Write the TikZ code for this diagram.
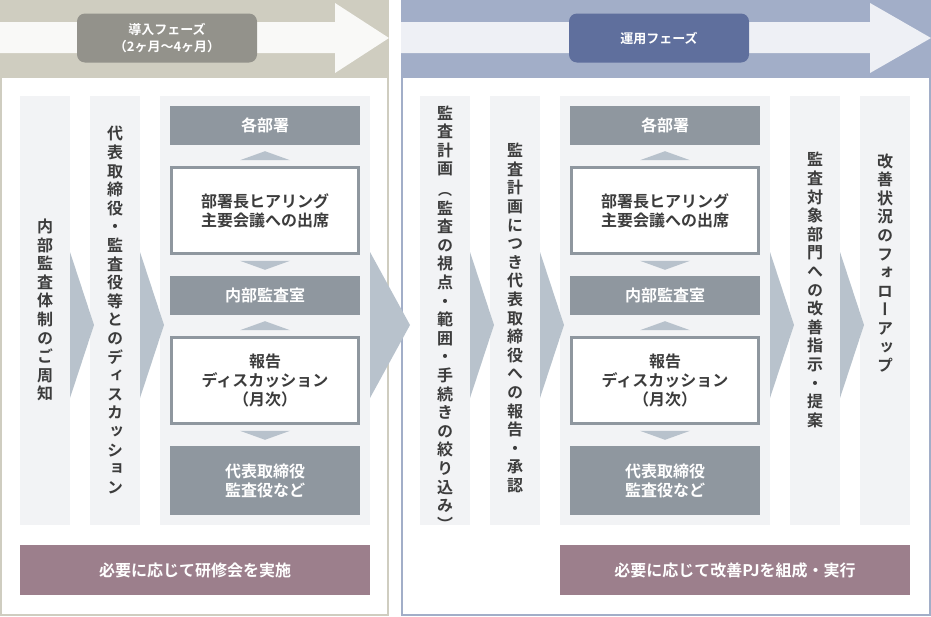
\documentclass[tikz,border=0pt]{standalone}
\usepackage{fontspec}
\setmainfont{Noto Sans CJK JP}[BoldFont=* Bold]
\newfontfamily\vfont{Noto Sans CJK JP}[RawFeature=+vert,BoldFont=* Bold]
\usetikzlibrary{calc, positioning}
\definecolor{introband}{HTML}{CFCDC0}
\definecolor{introlabel}{HTML}{93928B}
\definecolor{opband}{HTML}{A2AEC8}
\definecolor{oplight}{HTML}{EEF0F5}
\definecolor{oplabel}{HTML}{5F6F9D}
\definecolor{colbg}{HTML}{F2F3F5}
\definecolor{chev}{HTML}{B8C2CC}
\definecolor{darkbox}{HTML}{8F979F}
\definecolor{barbg}{HTML}{9C7F8C}
\definecolor{ink}{HTML}{3C3C3C}
% vertical text: one character per line
\def\vt#1{\vtfirst#1\relax}
\def\vtfirst#1{#1\vtaux}
\def\vtaux#1{\ifx#1\relax\else\\#1\expandafter\vtaux\fi}
\newcommand\smallv{\fontsize{14}{16.2}\selectfont}

\begin{document}
\begin{tikzpicture}[x=1pt, y=-1pt,
  col/.style={fill=colbg},
  vlabel/.style={text=ink, font=\vfont\bfseries\fontsize{16}{18.6}\selectfont, align=center, inner sep=0},
  darkbox/.style={fill=darkbox, text=white, font=\bfseries\fontsize{16}{19}\selectfont, align=center, minimum width=190pt, inner sep=0},
  whitebox/.style={draw=darkbox, line width=3pt, fill=white, text=ink, font=\bfseries\fontsize{16}{19}\selectfont, align=center, minimum width=187pt, minimum height=86pt, inner sep=0},
  bar/.style={fill=barbg, text=white, font=\bfseries\fontsize{16}{19}\selectfont, minimum width=350pt, minimum height=50pt},
  phase/.style={rounded corners=8pt, text=white, font=\bfseries\fontsize{13}{17}\selectfont, align=center, minimum width=180pt, minimum height=49pt},
  tri/.style={fill=chev}
]
\useasboundingbox (0,0) rectangle (931,616);

% phase frames
\fill[introband] (0,0) rectangle (389,616);
\fill[white] (2,78) rectangle (387,614);
\fill[opband] (401,0) rectangle (931,616);
\fill[white] (403,78) rectangle (929,614);

% header arrows
\fill[white!60!introband!30] (0,22) -- (335,22) -- (335,3) -- (389,38) -- (335,73) -- (335,53) -- (0,53) -- cycle;
\fill[oplight] (401,22) -- (870,22) -- (870,3) -- (931,38) -- (870,73) -- (870,53) -- (401,53) -- cycle;
\node[phase, fill=introlabel] (introphase) at (167,38) {導入フェーズ\\（2ヶ月〜4ヶ月）};
\node[phase, fill=oplabel] (opphase) at (659,38) {運用フェーズ};

% columns
\fill[col] (20,96) rectangle (70,525);
\fill[col] (90,96) rectangle (140,525);
\fill[col] (160,96) rectangle (370,525);
\fill[col] (420,96) rectangle (470,525);
\fill[col] (490,96) rectangle (540,525);
\fill[col] (560,96) rectangle (770,525);
\fill[col] (790,96) rectangle (840,525);
\fill[col] (860,96) rectangle (910,525);

% chevrons between columns
\foreach \a/\b in {70/94, 140/164, 370/410, 470/494, 540/564, 770/794, 840/864}
  \fill[tri] (\a,252) -- (\b,325) -- (\a,398) -- cycle;

% vertical texts
\node[vlabel] (notice) at (45,310) {\vt{内部監査体制のご周知}};
\node[vlabel] (discuss) at (115,310) {\vt{代表取締役・監査役等とのディスカッション}};
\node[vlabel] (plan) at (445,318) {\vt{監査計画}\\[2pt]\smallv\vt{（監査の視点・範囲・手続きの絞り込み）}};
\node[vlabel] (approve) at (515,318) {\vt{監査計画につき代表取締役への報告・承認}};
\node[vlabel] (instruct) at (815,290) {\vt{監査対象部門への改善指示・提案}};
\node[vlabel] (follow) at (885,263) {\vt{改善状況のフォローアップ}};

% panels
\foreach \p/\x in {l/265, r/665} {
  \node[darkbox, minimum height=39pt] (dept\p) at (\x,125.5) {各部署};
  \node[whitebox] (hear\p) at (\x,210.5) {部署長ヒアリング\\主要会議への出席};
  \node[darkbox, minimum height=39pt] (audit\p) at (\x,295.5) {内部監査室};
  \node[whitebox] (report\p) at (\x,380.5) {報告\\ディスカッション\\（月次）};
  \node[darkbox, minimum height=69pt] (exec\p) at (\x,480.5) {代表取締役\\監査役など};
  \fill[tri] ($(dept\p.south)+(-25,15)$) -- ($(dept\p.south)+(0,6)$) -- ($(dept\p.south)+(25,15)$) -- cycle;
  \fill[tri] ($(audit\p.north)+(-25,-15)$) -- ($(audit\p.north)+(0,-6)$) -- ($(audit\p.north)+(25,-15)$) -- cycle;
  \fill[tri] ($(audit\p.south)+(-25,15)$) -- ($(audit\p.south)+(0,6)$) -- ($(audit\p.south)+(25,15)$) -- cycle;
  \fill[tri] ($(exec\p.north)+(-25,-15)$) -- ($(exec\p.north)+(0,-6)$) -- ($(exec\p.north)+(25,-15)$) -- cycle;
}

% bottom bars
\node[bar] (training) at (195,570) {必要に応じて研修会を実施};
\node[bar] (improve) at (735,570) {必要に応じて改善PJを組成・実行};
\end{tikzpicture}
\end{document}
